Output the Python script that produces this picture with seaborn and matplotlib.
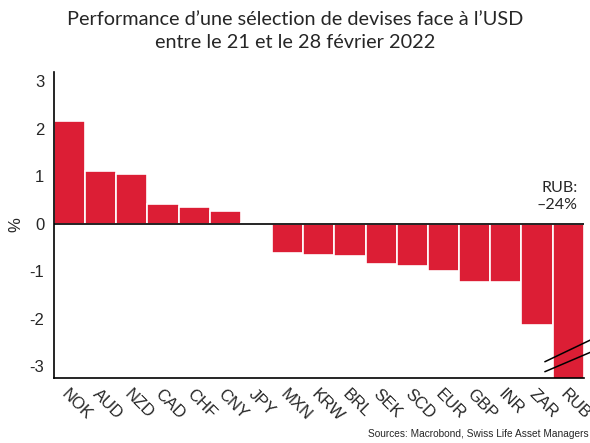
import numpy as np
import pandas as pd
import matplotlib
matplotlib.use("Agg")
import matplotlib.pyplot as plt
import seaborn as sns

# donnees : performance vs USD, 21-28 fevrier 2022 (%)
devises = ["NOK", "AUD", "NZD", "CAD", "CHF", "CNY", "JPY", "MXN", "KRW",
           "BRL", "SEK", "SCD", "EUR", "GBP", "INR", "ZAR", "RUB"]
performance = [2.17, 1.10, 1.04, 0.42, 0.34, 0.26, 0.02, -0.61, -0.67,
               -0.69, -0.84, -0.90, -0.99, -1.22, -1.24, -2.13, -24.0]

rouge = "#DC1E35"

sns.set_style("white")
plt.rcParams["font.family"] = ["Liberation Sans", "DejaVu Sans"]

df = pd.DataFrame({"devise": devises, "perf": performance})

fig = plt.figure(figsize=(5.9, 4.43), dpi=100)
ax = fig.add_axes([0.0915, 0.147, 0.898, 0.691])

sns.barplot(data=df, x="devise", y="perf", color=rouge, saturation=1,
            width=1.0, edgecolor="white", linewidth=1.2, ax=ax)

ax.set_ylim(-3.25, 3.2)
ax.set_xlim(-0.5, len(devises) - 0.5)
ax.axhline(0, color="black", lw=1.2, zorder=3)

# axes
sns.despine(ax=ax)
ax.spines["left"].set_color("black")
ax.spines["bottom"].set_color("black")
ax.spines["left"].set_linewidth(1.2)
ax.spines["bottom"].set_linewidth(1.2)

ax.set_yticks([-3, -2, -1, 0, 1, 2, 3])
ax.set_yticklabels(["-3", "-2", "-1", "0", "1", "2", "3"], fontsize=12)
ax.tick_params(axis="y", direction="out", length=4, width=1, color="black", pad=3)

# ticks aux limites des barres, etiquettes au centre
ax.set_xticks(np.arange(-0.5, len(devises), 1.0))
ax.set_xticklabels([])
ax.tick_params(axis="x", which="major", direction="out", length=4, width=1, color="black")
ax.set_xticks(np.arange(len(devises)), minor=True)
ax.set_xticklabels(devises, minor=True, rotation=-45, ha="left", va="top",
                   rotation_mode="anchor", fontsize=12)
ax.tick_params(axis="x", which="minor", length=0, pad=6)

ax.set_xlabel("")
ax.set_ylabel("%", fontsize=12, labelpad=4)

# rupture de la barre RUB
for y0, y1 in [(-2.91, -2.44), (-3.12, -2.70)]:
    ax.plot([15.25, 16.75], [y0, y1], color="black", lw=1.1,
            clip_on=False, zorder=5)

ax.text(16.3, 0.24, "RUB:\n\u201324%", ha="right", va="bottom", fontsize=11.5,
        family=["Lato", "DejaVu Sans"], linespacing=1.25, multialignment="right")

fig.text(0.5, 0.975, "Performance d\u2019une s\u00e9lection de devises face \u00e0 l\u2019USD\n"
         "entre le 21 et le 28 f\u00e9vrier 2022", ha="center", va="top",
         fontsize=14.3, family=["Lato", "DejaVu Sans"], linespacing=1.4)

fig.text(0.998, 0.008, "Sources: Macrobond, Swiss Life Asset Managers",
         ha="right", va="bottom", fontsize=7.3)

fig.savefig("out.png", dpi=100)
